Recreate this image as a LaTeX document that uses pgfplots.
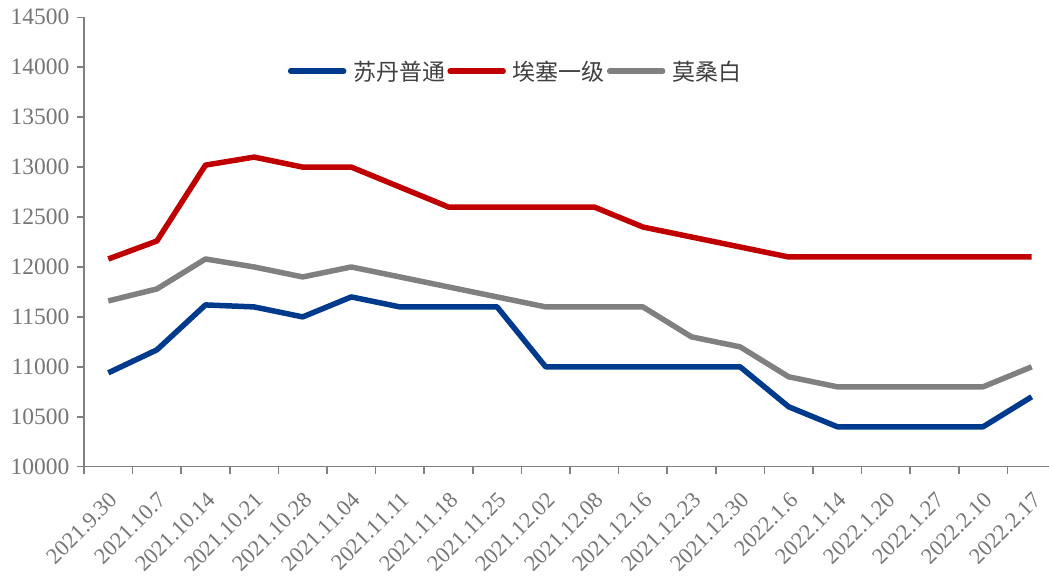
\documentclass[border=0pt]{standalone}
\usepackage{pgfplots}
\pgfplotsset{compat=1.18}
\usepackage{fontspec}
\setmainfont{Liberation Serif}
\newfontfamily\cjk{Noto Sans CJK SC}
\definecolor{cblue}{RGB}{0,58,140}
\definecolor{cred}{RGB}{192,0,0}
\definecolor{cgray}{RGB}{128,128,128}
\definecolor{axgray}{RGB}{128,128,128}
\definecolor{txtgray}{RGB}{118,118,118}
\definecolor{legtxt}{RGB}{64,64,64}
\begin{document}
\begin{tikzpicture}
\begin{axis}[name=ax, scale only axis, width=965pt, height=449.4pt,
  xmin=-0.5, xmax=19.356, ymin=10000, ymax=14500,
  axis x line=bottom, axis y line=left,
  axis line style={axgray, line width=1.5pt, -},
  xtick={0,...,19},
  xticklabels={2021.9.30,2021.10.7,2021.10.14,2021.10.21,2021.10.28,2021.11.04,2021.11.11,2021.11.18,2021.11.25,2021.12.02,2021.12.08,2021.12.16,2021.12.23,2021.12.30,2022.1.6,2022.1.14,2022.1.20,2022.1.27,2022.2.10,2022.2.17},
  major x tick style={draw=none},
  minor xtick={-0.5,0.5,...,19.5},
  minor x tick style={axgray, line width=1.5pt},
  minor tick length=7pt,
  ytick={10000,10500,...,14500},
  y tick style={axgray, line width=1.5pt},
  major tick length=7pt,
  tick align=outside,
  /pgf/number format/assume math mode=true,
  /pgf/number format/1000 sep={},
  scaled y ticks=false,
  yticklabel style={font=\fontsize{23.5}{25}\selectfont, color=txtgray, xshift=-4pt},
  xticklabel style={yshift=-14pt, xshift=0pt, rotate=45, anchor=north east, font=\fontsize{22.5}{24}\selectfont, color=txtgray, inner sep=2pt},
  legend style={at={(0.208,0.88)}, anchor=west, draw=none, fill=none,
    legend columns=3, font=\cjk\fontsize{23}{25}\selectfont, text=legtxt,
    /tikz/every odd column/.append style={column sep=5pt},
    /tikz/every even column/.append style={column sep=0pt}},
  legend image code/.code={\draw[#1, line width=5.5pt, line cap=round] (0pt,0pt) -- (53pt,0pt);},
  every axis plot/.append style={line width=5.5pt, line join=round},
]
\addplot[cblue] coordinates {(0,10940)(1,11170)(2,11620)(3,11600)(4,11500)(5,11700)(6,11600)(7,11600)(8,11600)(9,11000)(10,11000)(11,11000)(12,11000)(13,11000)(14,10600)(15,10400)(16,10400)(17,10400)(18,10400)(19,10700)};
\addlegendentry{苏丹普通}
\addplot[cred] coordinates {(0,12080)(1,12260)(2,13020)(3,13100)(4,13000)(5,13000)(6,12800)(7,12600)(8,12600)(9,12600)(10,12600)(11,12400)(12,12300)(13,12200)(14,12100)(15,12100)(16,12100)(17,12100)(18,12100)(19,12100)};
\addlegendentry{埃塞一级}
\addplot[cgray] coordinates {(0,11660)(1,11780)(2,12080)(3,12000)(4,11900)(5,12000)(6,11900)(7,11800)(8,11700)(9,11600)(10,11600)(11,11600)(12,11300)(13,11200)(14,10900)(15,10800)(16,10800)(17,10800)(18,10800)(19,11000)};
\addlegendentry{莫桑白}
\end{axis}
\pgfresetboundingbox
\path[use as bounding box] (ax.south west) ++(-84pt,-111.3pt) rectangle ++(1049pt,578pt);
\end{tikzpicture}
\end{document}
